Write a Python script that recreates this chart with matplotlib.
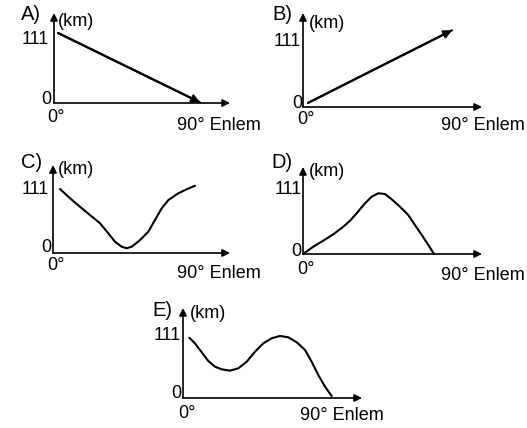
"""Five sketch graphs of 1 degree longitude length (km) against latitude"""
import matplotlib
matplotlib.use("Agg")
import matplotlib.pyplot as plt

W, H = 527, 428

# values: latitude (degrees) and distance (km)
a_lat = [2.5, 90]
a_km = [111, 1]

b_lat = [3, 89.4]
b_km = [7, 131]

c_lat = [4.6, 11.2, 17.7, 24.3, 30.9, 36.3, 40.7, 45.1, 48.4, 51.7,
         57.2, 62.6, 67.0, 71.4, 75.8, 82.3, 87.8, 93.3]
c_km = [111, 94.9, 80.3, 65.9, 51.5, 34.2, 19.6, 10.9, 8.2, 10.9,
        22.5, 36.9, 57.2, 77.5, 91.9, 103.5, 110.5, 116.7]

d_lat = [0, 7.1, 13.9, 20.8, 27.7, 32.3, 36.9, 42.6, 47.2, 51.7,
         56.3, 60.9, 66.6, 72.3, 76.9, 81.6, 86.1, 90]
d_km = [0, 13.3, 24.2, 35.8, 49.7, 60.6, 74.1, 92.3, 104.3, 110.5,
        109.2, 99.6, 86.1, 71.0, 52.8, 34.6, 16.4, 0]

e_lat = [3.8, 7.2, 11.3, 15.3, 19.3, 23.4, 28.4, 33.4, 38.5, 43.5,
         48.5, 53.6, 58.6, 63.6, 68.7, 73.7, 77.7, 81.7, 85.8, 89.8]
e_km = [109.7, 99.5, 83.2, 67.3, 57.0, 52.2, 49.7, 54.0, 66.1, 84.3,
        99.5, 108.7, 112.9, 110.5, 101.4, 87.4, 66.1, 41.9, 20.6, 3.6]

letters = ["A)", "B)", "C)", "D)", "E)"]
y_ticks = ["111", "0"]
x_ticks = ["0°", "90° Enlem"]

# panel frames in pixels: origin x, origin y, x of 90°, y of 111 km, x axis end, y axis end
frames = [
    (54, 103, 200, 33, 230, 13),
    (303, 107, 453, 42, 482, 13),
    (53, 253, 190, 189, 230, 165),
    (303, 254, 434, 193, 482, 167),
    (183, 398, 332, 337, 362, 308),
]

# label anchors in pixels: letter, (km), 111, 0, 0°, 90° Enlem
label_spots = [
    [(21, 15), (58, 21), (49, 40), (51, 99), (47, 118), (177, 126)],
    [(272, 15), (309, 23), (301, 42), (302, 103), (297, 119), (441, 126)],
    [(21, 163), (58, 170), (49, 189), (51, 247), (47, 266), (177, 274)],
    [(271, 163), (309, 172), (302, 189), (301, 251), (297, 269), (441, 276)],
    [(152, 310), (190, 313), (181, 335), (181, 394), (178, 413), (300, 416)],
]


def add_panel(fig, frame):
    """Make an axes whose data units are degrees and km, with arrowed axes"""
    ox, oy, x90, y111, xtip, ytip = frame
    ax = fig.add_axes([ox / W, 1 - oy / H, (xtip - ox) / W, (oy - ytip) / H])
    ax.set_xlim(0, 90 * (xtip - ox) / (x90 - ox))
    ax.set_ylim(0, 111 * (oy - ytip) / (oy - y111))
    ax.axis("off")
    for end in [(1, 0), (0, 1)]:
        ax.annotate("", xy=end, xytext=(0, 0), xycoords="axes fraction",
                    arrowprops=dict(arrowstyle="-|>", color="black", lw=1.2,
                                    mutation_scale=11, shrinkA=0, shrinkB=0))
    return ax


def add_labels(fig, spots, letter):
    """Write the letter, unit and tick texts of one panel"""
    texts = [letter, "(km)"] + y_ticks + x_ticks
    aligns = ["left", "left", "right", "right", "left", "left"]
    sizes = [14.5, 13, 13, 13, 13, 13]
    for (x, y), s, ha, size in zip(spots, texts, aligns, sizes):
        fig.text(x / W, 1 - y / H, s, ha=ha, va="center", fontsize=size)


def main():
    """Driver function"""
    plt.rcParams["font.family"] = ["Liberation Sans", "DejaVu Sans"]
    fig = plt.figure(figsize=(W / 100, H / 100), dpi=100)
    fig.patch.set_facecolor("white")

    series = [(a_lat, a_km), (b_lat, b_km), (c_lat, c_km), (d_lat, d_km), (e_lat, e_km)]
    for i, (lat, km) in enumerate(series):
        ax = add_panel(fig, frames[i])
        ax.plot(lat, km, color="black", lw=1.5, clip_on=False, solid_capstyle="round")
        if i < 2:
            ax.annotate("", xy=(lat[-1], km[-1]), xytext=(lat[0], km[0]),
                        arrowprops=dict(arrowstyle="-|>", color="black", lw=1.5,
                                        mutation_scale=12, shrinkA=0, shrinkB=0))
        add_labels(fig, label_spots[i], letters[i])

    fig.savefig("out.png", dpi=100, facecolor="white")


if __name__ == "__main__":
    main()
